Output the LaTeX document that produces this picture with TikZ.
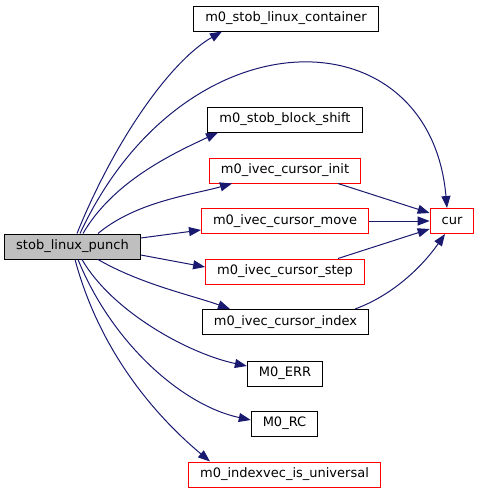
\documentclass[tikz,border=0pt]{standalone}
\usepackage{fontspec}
\setmainfont{DejaVu Sans}
\usetikzlibrary{arrows.meta}
\definecolor{edgeblue}{HTML}{191970}
\definecolor{rootgrey}{HTML}{BFBFBF}

\begin{document}
\begin{tikzpicture}[
    x=1pt, y=1pt,
    >={Triangle[length=12pt,width=9pt]},
    every node/.style={font=\fontsize{13}{15}\selectfont},
    func/.style={
        draw, line width=1pt, minimum height=25pt,
        inner xsep=11.5pt, inner ysep=2pt, fill=white
    },
    trunc/.style={func, draw=red},
    root/.style={func, fill=rootgrey},
    edge/.style={->, line width=1pt, draw=edgeblue}
]
\useasboundingbox (0,0) rectangle (479,-493);

% Wurzel
\node[root] (P) at (72.5,-246.5) {stob\_linux\_punch};

% aufgerufene Funktionen
\node[func]  (cont)  at (286,-18.5)  {m0\_stob\_linux\_container};
\node[func]  (shift) at (285,-119.5) {m0\_stob\_block\_shift};
\node[trunc] (init)  at (285,-170.5) {m0\_ivec\_cursor\_init};
\node[trunc] (move)  at (285,-221)   {m0\_ivec\_cursor\_move};
\node[trunc] (step)  at (285,-271.5) {m0\_ivec\_cursor\_step};
\node[func]  (index) at (285.5,-322) {m0\_ivec\_cursor\_index};
\node[func]  (err)   at (285,-373.5) {M0\_ERR};
\node[func]  (rc)    at (284.5,-423.5) {M0\_RC};
\node[trunc] (univ)  at (284.5,-474.5) {m0\_indexvec\_is\_universal};
\node[trunc] (cur)   at (452,-221)   {cur};

% Kanten nach oben
\draw[edge] ([xshift=4.5pt]P.north) .. controls +(68:100) and +(210:60) .. ([xshift=-64pt]cont.south);
\draw[edge] ([xshift=7.5pt]P.north) .. controls +(65:247) and +(95:196) .. ([xshift=-5pt]cur.north);
\draw[edge] ([xshift=10.5pt]P.north) .. controls +(60:60) and +(205:50) .. ([xshift=-67pt]shift.south);
\draw[edge] ([xshift=25.5pt]P.north) .. controls +(40:50) and +(196:40) .. ([xshift=-53pt]init.south);

% Kanten nach rechts
\draw[edge] ([yshift=8.5pt]P.east) -- ([yshift=-9pt]move.west);
\draw[edge] ([yshift=-8.5pt]P.east) -- ([yshift=4.5pt]step.west);

% Kanten nach unten
\draw[edge] ([xshift=25.5pt]P.south) .. controls +(-30:50) and +(160:40) .. ([xshift=-55.5pt]index.north);
\draw[edge] ([xshift=9.5pt]P.south) .. controls +(-60:60) and +(168:60) .. ([yshift=7.5pt]err.west);
\draw[edge] ([xshift=5.5pt]P.south) .. controls +(-68:90) and +(168:70) .. ([yshift=3.5pt]rc.west);
\draw[edge] ([xshift=2.5pt]P.south) .. controls +(-75:110) and +(140:50) .. ([xshift=-74.5pt]univ.north);

% Kanten nach cur
\draw[edge] ([xshift=53pt]init.south) -- ([yshift=8pt]cur.west);
\draw[edge] (move.east) -- (cur.west);
\draw[edge] ([xshift=53pt]step.north) -- ([yshift=-8pt]cur.west);
\draw[edge] ([xshift=69.5pt]index.north) .. controls +(20:40) and +(235:40) .. ([xshift=-7pt]cur.south);

\end{tikzpicture}
\end{document}
